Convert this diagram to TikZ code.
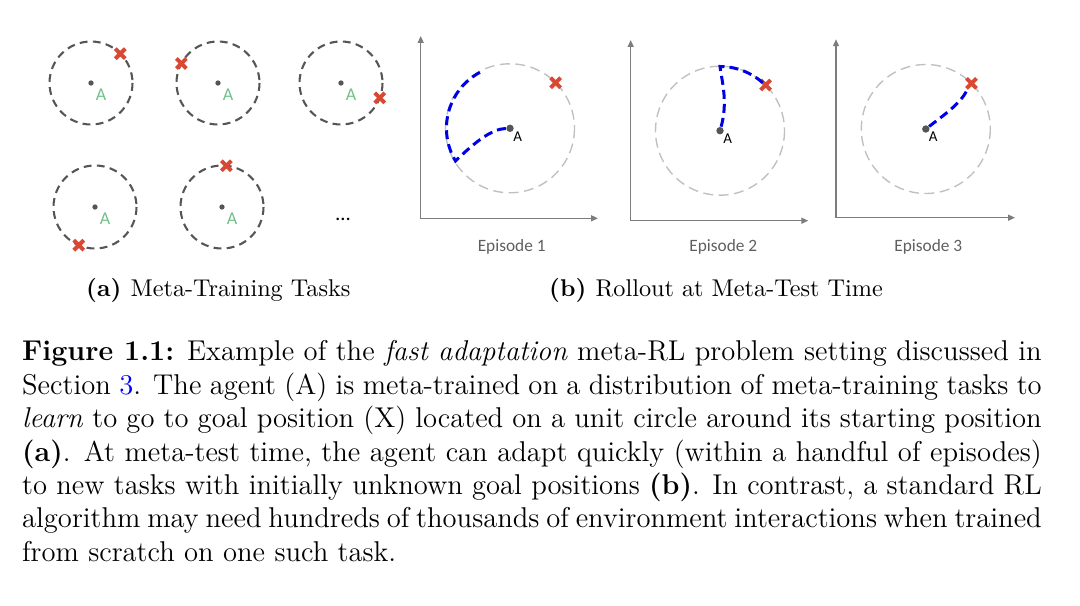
\documentclass[tikz,border=0pt]{standalone}
\usepackage{fontspec}
\newfontfamily\calibri{Carlito}
\usetikzlibrary{arrows.meta, positioning, calc}
\usepackage{xcolor}

\definecolor{goalred}{RGB}{217,72,50}
\definecolor{agentgreen}{RGB}{112,192,138}
\definecolor{ringgray}{RGB}{85,85,85}
\definecolor{lightring}{RGB}{192,192,192}
\definecolor{axisgray}{RGB}{125,125,125}
\definecolor{pathblue}{RGB}{0,0,230}
\definecolor{labelgray}{RGB}{95,95,95}

\setlength{\parindent}{0pt}
\hyphenpenalty=10000

\tikzset{
  goal/.pic={\draw[goalred, line width=1.7pt] (-5,-5) -- (5,5) (-5,5) -- (5,-5);}
}

\begin{document}
\begin{tikzpicture}[
      x=0.4333pt, y=-0.4333pt,
      taskring/.style={draw=ringgray, line width=0.9pt, dash pattern=on 3.4pt off 2.3pt},
      envring/.style={draw=lightring, line width=0.6pt, dash pattern=on 4.3pt off 2.4pt},
      agent/.style={circle, fill=ringgray, inner sep=0pt, minimum size=2.3pt},
      bigagent/.style={circle, fill=ringgray, inner sep=0pt, minimum size=3.2pt},
      agentlbl/.style={text=agentgreen, inner sep=0pt, font=\calibri\fontsize{7.8}{9}\selectfont},
      envlbl/.style={inner sep=0pt, font=\calibri\fontsize{6.5}{8}\selectfont},
      episode/.style={text=labelgray, inner sep=0pt, font=\calibri\fontsize{7.5}{9}\selectfont},
      axis/.style={draw=axisgray, line width=0.6pt, {Triangle[length=3pt,width=2.6pt]}-{Triangle[length=3pt,width=2.6pt]}},
      rollout/.style={draw=pathblue, line width=1.3pt, dash pattern=on 3.9pt off 2.2pt},
      subcap/.style={anchor=base, inner sep=0pt, font=\fontsize{10.5}{13}\selectfont},
      caption/.style={anchor=north west, inner sep=0pt, text width=441.8pt, align=justify,
        font=\fontsize{12.4}{14.5}\selectfont}
    ]
    \useasboundingbox (0,0) rectangle (1080,606);

    % Meta-training tasks
    \foreach \n/\cx/\cy/\ang in {1/91/83/-45, 2/218/83/-152, 3/341/83/21, 4/95/207/113, 5/222/207/-84} {
      \node[agent] (t\n) at (\cx,\cy) {};
      \draw[taskring] (t\n.center) circle[radius=41.5];
      \node[agentlbl] (t\n A) at (\cx+10,\cy+12) {A};
      \pic at ($(t\n.center)+(\ang:41.5)$) {goal};
    }
    \node[inner sep=0pt, font=\calibri\fontsize{9}{10}\selectfont] (more) at (343,219) {\ldots};

    % Axes
    \coordinate (o1) at (420.7,218.3); \coordinate (y1) at (420.7,36); \coordinate (x1) at (598,218.3);
    \coordinate (o2) at (630.7,220.7); \coordinate (y2) at (630.7,40); \coordinate (x2) at (808.3,220.7);
    \coordinate (o3) at (836,217.7);   \coordinate (y3) at (836,39.3); \coordinate (x3) at (1015,217.7);
    \foreach \k in {1,2,3}
      \draw[axis] (y\k) -- (o\k) -- (x\k);

    % Episodes
    \node[bigagent] (e1) at (510,128.3) {};
    \node[bigagent] (e2) at (720,130.7) {};
    \node[bigagent] (e3) at (925.8,129) {};
    \foreach \k in {1,2,3} {
      \draw[envring] (e\k.center) circle[radius=64.5];
      \pic at ($(e\k.center)+(-45:64.5)$) {goal};
    }
    \node[envlbl, anchor=north west] (e1A) at (513,131) {A};
    \node[envlbl, anchor=north west] (e2A) at (723,133) {A};
    \node[envlbl, anchor=north west] (e3A) at (928.5,131) {A};

    % Rollouts
    \draw[rollout] (e1) .. controls (492,129) and (476,141) .. (455.5,161) arc[start angle=149, end angle=243, radius=63.5];
    \draw[rollout] (e2) .. controls (728,102) and (722,82) .. (720,66.5) arc[start angle=-90, end angle=-47, radius=64.2];
    \draw[rollout] (e3) .. controls (948,112) and (962,102) .. (968,88);

    \node[episode] (ep1) at (511.7,246.7) {Episode 1};
    \node[episode] (ep2) at (723.3,246.7) {Episode 2};
    \node[episode] (ep3) at (928.3,246.7) {Episode 3};

    % Sub-captions
    \node[subcap] (capa) at (218.3,296.7) {\textbf{(a)}\hspace{4pt}Meta-Training Tasks};
    \node[subcap] (capb) at (716,296.7) {\textbf{(b)}\hspace{4pt}Rollout at Meta-Test Time};

    % Caption
    \node[caption] (cap) at (21.7,340) {\textbf{Figure 1.1:} Example of the \textit{fast adaptation} meta-RL problem setting discussed in\linebreak
      Section \textcolor{blue}{3}. The agent (A) is meta-trained on a distribution of meta-training tasks to\linebreak
      \textit{learn} to go to goal position (X) located on a unit circle around its starting position\linebreak
      \textbf{(a)}. At meta-test time, the agent can adapt quickly (within a handful of episodes)\linebreak
      to new tasks with initially unknown goal positions \textbf{(b)}. In contrast, a standard RL\linebreak
      algorithm may need hundreds of thousands of environment interactions when trained\linebreak
      from scratch on one such task.};

  \end{tikzpicture}
\end{document}
